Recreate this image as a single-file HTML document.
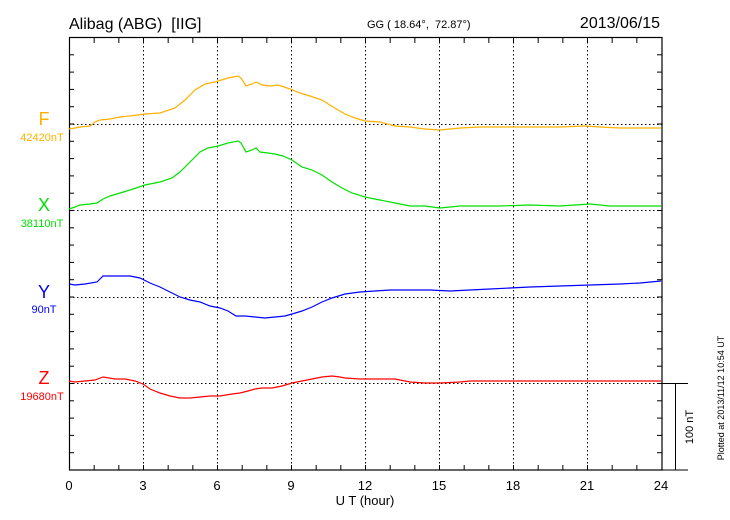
<!DOCTYPE html>
<html><head><meta charset="utf-8"><style>
html,body{margin:0;padding:0;background:#fff;}
svg{display:block;font-family:"Liberation Sans",sans-serif;}
</style></head><body>
<svg width="730" height="520" viewBox="0 0 730 520" xmlns="http://www.w3.org/2000/svg">
<rect width="730" height="520" fill="#fff"/>
<text x="69" y="29" font-size="16" fill="#000">Alibag (ABG)&#160;&#160;[IIG]</text>
<text x="367" y="28" font-size="11" fill="#000">GG ( 18.64°,&#160;&#160;72.87°)</text>
<text x="660" y="28" font-size="16" fill="#000" text-anchor="end">2013/06/15</text>
<g stroke="#000" stroke-width="1" stroke-dasharray="1.5,2.5">
<line x1="143.5" y1="38" x2="143.5" y2="470"/><line x1="217.5" y1="38" x2="217.5" y2="470"/>
<line x1="291.5" y1="38" x2="291.5" y2="470"/><line x1="365.5" y1="38" x2="365.5" y2="470"/>
<line x1="439.5" y1="38" x2="439.5" y2="470"/><line x1="513.5" y1="38" x2="513.5" y2="470"/>
<line x1="587.5" y1="38" x2="587.5" y2="470"/>
<line x1="69" y1="124.5" x2="662" y2="124.5"/><line x1="69" y1="210.5" x2="662" y2="210.5"/>
<line x1="69" y1="297.5" x2="662" y2="297.5"/><line x1="69" y1="383.5" x2="662" y2="383.5"/>
</g>
<g id="t" stroke="#000" stroke-width="1"></g>
<rect x="69.5" y="37.5" width="592.5" height="432.5" fill="none" stroke="#000" stroke-width="1.2"/>
<line x1="662" y1="383.5" x2="688" y2="383.5" stroke="#000"/>
<line x1="662" y1="470" x2="688" y2="470" stroke="#000"/>
<line x1="675.5" y1="383.5" x2="675.5" y2="470" stroke="#000"/>
<text transform="translate(693,427) rotate(-90)" font-size="11" text-anchor="middle">100 nT</text>
<text transform="translate(724,398) rotate(-90)" font-size="9" text-anchor="middle">Plotted at 2013/11/12 10:54 UT</text>
<g font-size="13" text-anchor="middle">
<text x="69" y="490">0</text><text x="143" y="490">3</text><text x="217" y="490">6</text><text x="291" y="490">9</text><text x="365" y="490">12</text><text x="439" y="490">15</text><text x="513" y="490">18</text><text x="587" y="490">21</text><text x="661" y="490">24</text>
<text x="365" y="505">U T (hour)</text>
</g>
<g text-anchor="middle">
<text x="44" y="125" font-size="18" fill="#ffb000">F</text><text x="42" y="141" font-size="11" fill="#ffb000">42420nT</text>
<text x="44" y="211" font-size="18" fill="#00e000">X</text><text x="42" y="227" font-size="11" fill="#00e000">38110nT</text>
<text x="44" y="298" font-size="18" fill="#0000ff">Y</text><text x="44" y="313" font-size="11" fill="#0000ff">90nT</text>
<text x="44" y="384" font-size="18" fill="#ff0000">Z</text><text x="42" y="400" font-size="11" fill="#ff0000">19680nT</text>
</g>
<g fill="none" stroke-width="1.2">
<polyline stroke="#ffb000" points="69,129 75,128 80,127 90,126 95,122 100,120 110,119 120,117 130,116 145,114 160,113 175,108 185,100 195,90 205,84 215,82 228,78 238,76 241,78 246,86 252,84 256,82 262,85 270,86 278,85 290,89 300,93 310,96 322,100 333,107 345,114 355,118 365,121 380,122 395,126 410,127 425,129 440,130 460,128 480,127 500,127 530,127 560,127 585,126 600,127 620,128 640,128 661,128"/>
<polyline stroke="#00e000" points="69,209 75,207 80,205 90,204 97,203 103,199 110,196 120,193 130,190 145,185 160,182 172,178 180,172 190,162 200,152 208,148 218,146 228,143 238,141 241,143 246,152 252,150 256,148 260,152 268,153 275,154 283,156 292,160 302,167 312,170 322,175 332,182 342,188 352,193 365,197 380,200 395,203 410,206 425,206 440,208 460,206 480,206 500,206 530,205 560,206 590,204 610,206 630,206 661,206"/>
<polyline stroke="#0000ff" points="69,284 75,285 85,284 97,282 103,276 115,276 130,276 140,278 150,283 160,287 170,292 180,297 190,300 200,302 210,306 220,308 228,311 236,316 245,316 255,317 265,318 275,317 285,316 292,314 302,311 312,307 322,302 332,298 345,294 360,292 375,291 390,290 410,290 430,290 450,291 470,290 490,289 510,288 530,287 560,286 590,285 620,284 640,283 661,281"/>
<polyline stroke="#ff0000" points="69,381 75,382 85,381 95,380 103,377 115,379 125,379 135,381 143,384 150,389 160,393 170,396 180,398 190,398 200,397 210,396 220,396 232,394 240,393 248,391 255,389 262,388 272,388 282,386 292,383 302,381 312,379 322,377 332,376 340,377 345,378 360,379 380,379 395,379 400,380 410,382 425,383 440,383 460,382 470,381 500,381 540,381 580,381 620,381 661,381"/>
</g>
</svg>
<script>
(function(){var g=document.getElementById('t'),ns='http://www.w3.org/2000/svg';
function L(a,b,c,d){var l=document.createElementNS(ns,'line');l.setAttribute('x1',a);l.setAttribute('y1',b);l.setAttribute('x2',c);l.setAttribute('y2',d);g.appendChild(l);}
for(var h=1;h<24;h++){var x=69.5+h*24.667;L(x,38,x,43);L(x,470,x,465);}
for(var i=1;i<25;i++){var y=470-i*17.3;if(y<40)break;L(69,y,74,y);L(662,y,657,y);}
})();
</script>
</body></html>
